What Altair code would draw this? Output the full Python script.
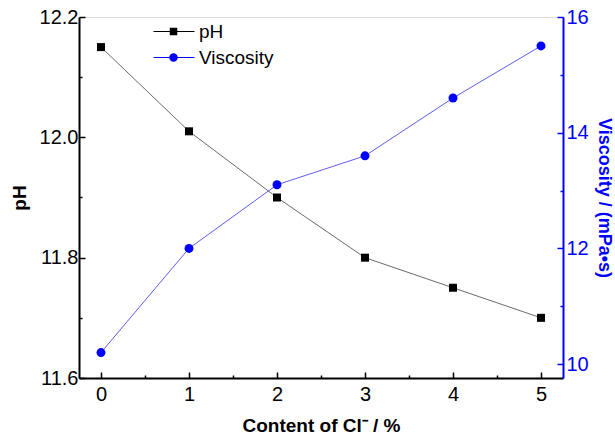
import altair as alt
import pandas as pd

content = [0, 1, 2, 3, 4, 5]
ph = [12.15, 12.01, 11.90, 11.80, 11.75, 11.70]
viscosity = [10.2, 12.0, 13.1, 13.6, 14.6, 15.5]
series = ["pH", "Viscosity"]

df = pd.DataFrame({"x": content, "ph": ph, "visc": viscosity})
leg_df = pd.DataFrame({"s": series})

FONT = "Liberation Sans"
BLUE = "#0000ff"
XDOM = [-0.25, 5.25]
PHDOM = [11.6, 12.2]
VDOM = [9.76, 16]
W, H = 484, 361
LFS = 20

def neg(v):
    return alt.ExprRef(expr=str(-v))

xscale = alt.Scale(domain=XDOM, nice=False, zero=False)
phscale = alt.Scale(domain=PHDOM, nice=False, zero=False)
vscale = alt.Scale(domain=VDOM, nice=False, zero=False)

base = alt.Chart(df)

# pH line with major axes
l1 = base.mark_line(color="#444444", strokeWidth=0.8).encode(
    x=alt.X("x:Q", scale=xscale, axis=alt.Axis(
        orient="bottom", values=content, format="d", title="Content of Cl\u207b / %",
        tickSize=neg(6), tickColor="black", tickWidth=1.5,
        domainColor="black", domainWidth=2, labelPadding=12,
        labelFontSize=LFS, labelFont=FONT, labelColor="black",
        titleFont=FONT, titleFontSize=19, titleFontWeight="bold", titleColor="black",
        titlePadding=12, grid=False)),
    y=alt.Y("ph:Q", scale=phscale, axis=alt.Axis(
        orient="left", values=[11.6, 11.8, 12.0, 12.2], format=".1f", title="pH",
        tickSize=neg(6), tickColor="black", tickWidth=1.5,
        domainColor="black", domainWidth=2, labelPadding=7,
        labelFontSize=LFS, labelFont=FONT, labelColor="black",
        titleFont=FONT, titleFontSize=19, titleFontWeight="bold", titleColor="black",
        titlePadding=10, grid=False)),
)

# pH squares with minor axes
l2 = base.mark_point(shape="square", filled=True, color="black", size=64, opacity=1).encode(
    x=alt.X("x:Q", scale=xscale, axis=alt.Axis(
        orient="bottom", values=[0.5, 1.5, 2.5, 3.5, 4.5], labels=False, domain=False,
        tickSize=neg(3), tickColor="black", tickWidth=1.5, title=None, grid=False)),
    y=alt.Y("ph:Q", scale=phscale, axis=alt.Axis(
        orient="left", values=[11.7, 11.9, 12.1], labels=False, domain=False,
        tickSize=neg(3), tickColor="black", tickWidth=1.5, title=None, grid=False)),
)

# viscosity line with right major axis
l3 = base.mark_line(color="#3333ee", strokeWidth=0.8).encode(
    x=alt.X("x:Q", scale=xscale, axis=None),
    y=alt.Y("visc:Q", scale=vscale, axis=alt.Axis(
        orient="right", values=[10, 12, 14, 16], format="d", title="Viscosity / (mPa\u2022s)",
        tickSize=neg(6), tickColor=BLUE, tickWidth=1.5,
        domainColor=BLUE, domainWidth=2, labelPadding=9,
        labelFontSize=LFS, labelFont=FONT, labelColor=BLUE,
        titleFont=FONT, titleFontSize=18, titleFontWeight="bold", titleColor=BLUE,
        titlePadding=6, titleAngle=90, grid=False)),
)

# viscosity circles with right minor axis
l4 = base.mark_point(shape="circle", filled=True, color=BLUE, size=80, opacity=1).encode(
    x=alt.X("x:Q", scale=xscale, axis=None),
    y=alt.Y("visc:Q", scale=vscale, axis=alt.Axis(
        orient="right", values=[11, 13, 15], labels=False, domain=False,
        tickSize=neg(3), tickColor=BLUE, tickWidth=1.5, title=None, grid=False)),
)

sq_path = "M-4,-0.1H-0.75V0.1H-4Z M0.75,-0.1H4.2V0.1H0.75Z M-0.75,-0.75H0.75V0.75H-0.75Z"
ci_path = ("M-4,-0.1H-0.85V0.1H-4Z M0.85,-0.1H4.2V0.1H0.85Z "
           "M-0.85,0A0.85,0.85 0 1,0 0.85,0A0.85,0.85 0 1,0 -0.85,0Z")

leg = dict(title=None, orient="none", legendX=85, legendY=5,
           symbolSize=100, labelOffset=16, rowPadding=6, padding=0,
           labelFont=FONT, labelFontSize=19, labelColor="black",
           symbolStrokeWidth=0, symbolOpacity=1)

l5 = alt.Chart(leg_df).mark_point(filled=True, opacity=1, strokeWidth=0).encode(
    color=alt.Color("s:N", scale=alt.Scale(domain=series, range=["black", BLUE]),
                    legend=alt.Legend(**leg)),
    shape=alt.Shape("s:N", scale=alt.Scale(domain=series, range=[sq_path, ci_path]),
                    legend=alt.Legend(**leg)),
).transform_filter("false")

chart = alt.layer(l1, l2, l3, l4, l5).resolve_scale(
    x="independent", y="independent"
).properties(
    width=W, height=H,
    autosize=alt.AutoSizeParams(type="none"),
    padding={"left": 79, "top": 17, "right": 52, "bottom": 57},
).configure_view(stroke=None).configure(background="white")

chart.save("out.html", embed_options={"renderer": "svg", "actions": False})
